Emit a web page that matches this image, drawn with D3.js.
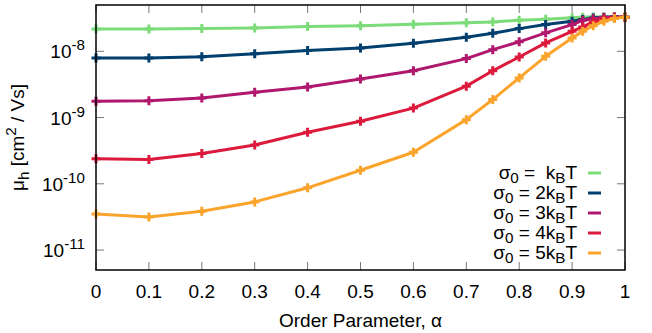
<!DOCTYPE html>
<html><head><meta charset="utf-8">
<script src="https://cdn.jsdelivr.net/npm/d3@7"></script>
<style>body{margin:0;background:#fff}svg{display:block}text{font-family:"Liberation Sans",Arial,sans-serif;fill:#000}</style>
</head><body><svg id="c" width="652" height="333"></svg>
<script>
const alphas = [0,0.1,0.2,0.3,0.4,0.5,0.6,0.7,0.75,0.8,0.85,0.9,0.92,0.94,0.96,0.98,1.0];
const mu1 = [2.18e-8,2.18e-8,2.2e-8,2.24e-8,2.36e-8,2.44e-8,2.56e-8,2.69e-8,2.78e-8,2.94e-8,3.06e-8,3.2e-8,3.26e-8,3.3e-8,3.3e-8,3.3e-8,3.28e-8];
const mu2 = [7.95e-9,7.95e-9,8.3e-9,9.2e-9,1.03e-8,1.12e-8,1.32e-8,1.63e-8,1.87e-8,2.2e-8,2.53e-8,2.84e-8,3.01e-8,3.18e-8,3.28e-8,3.3e-8,3.28e-8];
const mu3 = [1.76e-9,1.8e-9,1.98e-9,2.41e-9,2.9e-9,3.83e-9,5.1e-9,7.76e-9,1.06e-8,1.39e-8,1.9e-8,2.53e-8,2.94e-8,3.1e-8,3.25e-8,3.3e-8,3.28e-8];
const mu4 = [2.38e-10,2.32e-10,2.86e-10,3.86e-10,6.0e-10,8.8e-10,1.39e-9,2.98e-9,5.08e-9,8.2e-9,1.34e-8,2.0e-8,2.33e-8,2.78e-8,3.08e-8,3.25e-8,3.28e-8];
const mu5 = [3.51e-11,3.16e-11,3.85e-11,5.33e-11,8.7e-11,1.6e-10,2.99e-10,9.3e-10,1.87e-9,3.97e-9,8.4e-9,1.59e-8,2.0e-8,2.44e-8,2.84e-8,3.12e-8,3.28e-8];
const seriesNames = [["σ","0"," =  k","B","T"],["σ","0"," = 2k","B","T"],["σ","0"," = 3k","B","T"],["σ","0"," = 4k","B","T"],["σ","0"," = 5k","B","T"]];
const colors = ["#7ddc7a","#003f6e","#b0186e","#dc1a3c","#fba42c"];
const xTicks = [0,0.1,0.2,0.3,0.4,0.5,0.6,0.7,0.8,0.9,1];
const yTickExps = [-8,-9,-10,-11];
const allSeries = [mu1,mu2,mu3,mu4,mu5];

const W=652,H=333, m={l:96,r:27,t:5,b:63};
const svg=d3.select("#c");
const x=d3.scaleLinear().domain([0,1]).range([m.l,W-m.r]);
const y=d3.scaleLog().domain([5e-12,5e-8]).range([H-m.b,m.t]);
const fs=19;

// ticks
const tk=svg.append("g").attr("stroke","#777").attr("stroke-width",1);
xTicks.forEach(v=>{
  tk.append("line").attr("x1",x(v)).attr("x2",x(v)).attr("y1",y.range()[0]).attr("y2",y.range()[0]-8);
  tk.append("line").attr("x1",x(v)).attr("x2",x(v)).attr("y1",y.range()[1]).attr("y2",y.range()[1]+8);
});
yTickExps.forEach(e=>{
  const v=Math.pow(10,e);
  tk.append("line").attr("x1",x.range()[0]).attr("x2",x.range()[0]+8).attr("y1",y(v)).attr("y2",y(v));
  tk.append("line").attr("x1",x.range()[1]).attr("x2",x.range()[1]-8).attr("y1",y(v)).attr("y2",y(v));
});
// tick labels
svg.append("g").selectAll("text").data(xTicks).join("text")
  .attr("x",d=>x(d)).attr("y",H-m.b+28).attr("text-anchor","middle").attr("font-size",fs)
  .text(d=>d3.format("~g")(d));
const yl=svg.append("g").selectAll("text").data(yTickExps).join("text")
  .attr("x",m.l-11).attr("y",d=>y(Math.pow(10,d))+7).attr("text-anchor","end").attr("font-size",fs);
yl.append("tspan").text("10");
yl.append("tspan").attr("dy",-8).attr("font-size",fs*0.8).text(d=>"-"+(-d));

// lines
const line=d3.line().x((d,i)=>x(alphas[i])).y(d=>y(d));
allSeries.forEach((s,k)=>{
  svg.append("path").datum(s).attr("d",line).attr("fill","none").attr("stroke",colors[k]).attr("stroke-width",3).attr("stroke-linejoin","round");
  svg.append("g").selectAll("path").data(s).join("path")
    .attr("d",(d,i)=>{const cx=x(alphas[i]),cy=y(d);return `M${cx-4.5},${cy}H${cx+4.5}M${cx},${cy-4.5}V${cy+4.5}`;})
    .attr("stroke",colors[k]).attr("stroke-width",3);
});

// frame
svg.append("rect").attr("x",m.l).attr("y",m.t).attr("width",W-m.l-m.r).attr("height",H-m.t-m.b)
  .attr("fill","none").attr("stroke","#000").attr("stroke-width",1.5);

// legend
seriesNames.forEach((parts,k)=>{
  const ly=173+k*20;
  const t=svg.append("text").attr("x",577).attr("y",ly+6).attr("text-anchor","end").attr("font-size",fs).attr("xml:space","preserve");
  t.append("tspan").text(parts[0]);
  t.append("tspan").attr("dy",4).attr("font-size",fs*0.8).text(parts[1]);
  t.append("tspan").attr("dy",-4).text(parts[2]);
  t.append("tspan").attr("dy",4).attr("font-size",fs*0.8).text(parts[3]);
  t.append("tspan").attr("dy",-4).text(parts[4]);
  svg.append("line").attr("x1",588).attr("x2",601).attr("y1",ly).attr("y2",ly).attr("stroke",colors[k]).attr("stroke-width",3);
});

// axis titles
svg.append("text").attr("x",(m.l+W-m.r)/2).attr("y",H-6).attr("text-anchor","middle").attr("font-size",fs)
  .text("Order Parameter, α");
const yt=svg.append("text").attr("transform",`translate(24,${(m.t+H-m.b)/2}) rotate(-90)`).attr("text-anchor","middle").attr("font-size",fs);
yt.append("tspan").text("μ");
yt.append("tspan").attr("dy",5).attr("font-size",fs*0.8).text("h");
yt.append("tspan").attr("dy",-5).text(" [cm");
yt.append("tspan").attr("dy",-8).attr("font-size",fs*0.8).text("2");
yt.append("tspan").attr("dy",8).text(" / Vs]");
</script></body></html>
